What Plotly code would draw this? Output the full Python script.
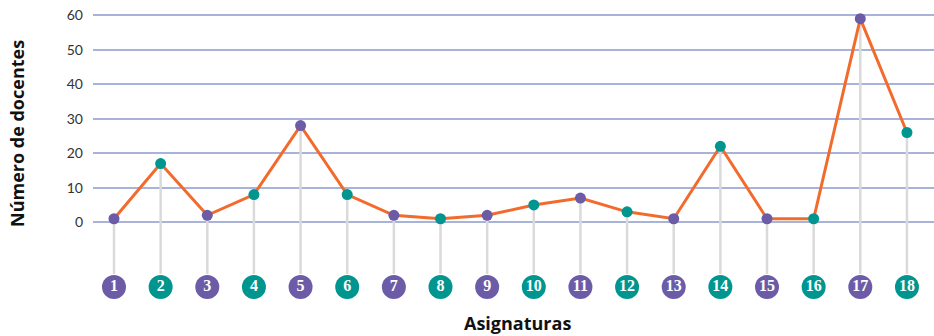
import plotly.graph_objects as go

# Subjects (Asignaturas) numbered 1..18 and number of teachers per subject
asignaturas = list(range(1, 19))
docentes = [1, 17, 2, 8, 28, 8, 2, 1, 2, 5, 7, 3, 1, 22, 1, 1, 59, 26]
y_ticks = [0, 10, 20, 30, 40, 50, 60]

PURPLE = "#6C5BA7"
TEAL = "#00968F"
ORANGE = "#F26B2D"
STEM = "#DADADA"
GRID = "#A9B3D9"

colores = [PURPLE if n % 2 == 1 else TEAL for n in asignaturas]

BADGE_Y = -18.8
STEM_BOTTOM = -15.0

# Vertical stems from each value down to its numbered badge
stem_x, stem_y = [], []
for a, d in zip(asignaturas, docentes):
    stem_x += [a, a, None]
    stem_y += [d, STEM_BOTTOM, None]

fig = go.Figure()

fig.add_trace(go.Scatter(
    x=stem_x, y=stem_y, mode="lines",
    line=dict(color=STEM, width=2.5),
    hoverinfo="skip", showlegend=False,
))

fig.add_trace(go.Scatter(
    x=asignaturas, y=docentes, mode="lines+markers",
    line=dict(color=ORANGE, width=3),
    marker=dict(size=11, color=colores),
    showlegend=False,
))

# Numbered badges under each subject
fig.add_trace(go.Scatter(
    x=asignaturas, y=[BADGE_Y] * len(asignaturas),
    mode="markers+text",
    marker=dict(size=24, color=colores),
    text=[str(a) for a in asignaturas],
    textposition="middle center",
    textfont=dict(family="Liberation Serif", size=16, color="white", weight="bold"),
    hoverinfo="skip", showlegend=False,
))

fig.update_layout(
    width=934, height=336,
    margin=dict(l=93, r=0, t=10, b=31),
    paper_bgcolor="white", plot_bgcolor="white",
    font=dict(family="Lato", color="#333333"),
    xaxis=dict(range=[0.55, 18.58], showgrid=False, zeroline=False,
               showticklabels=False, showline=False),
    yaxis=dict(range=[-24, 61.5], tickvals=y_ticks, showgrid=True,
               gridcolor=GRID, gridwidth=1.5, zeroline=False, showline=False,
               tickfont=dict(size=14, color="#333333"), ticklabelstandoff=9),
    annotations=[
        dict(text="<b>Número de docentes</b>", textangle=-90,
             xref="paper", yref="paper", x=(17 - 93) / 841, y=(305 - 134) / 295,
             xanchor="center", yanchor="middle", showarrow=False,
             font=dict(family="Open Sans", size=18, color="#111111")),
        dict(text="<b>Asignaturas</b>",
             xref="paper", yref="paper", x=(517 - 93) / 841, y=(305 - 323) / 295,
             xanchor="center", yanchor="middle", showarrow=False,
             font=dict(family="Open Sans", size=18, color="#111111")),
    ],
)

fig.write_html("out.html")
